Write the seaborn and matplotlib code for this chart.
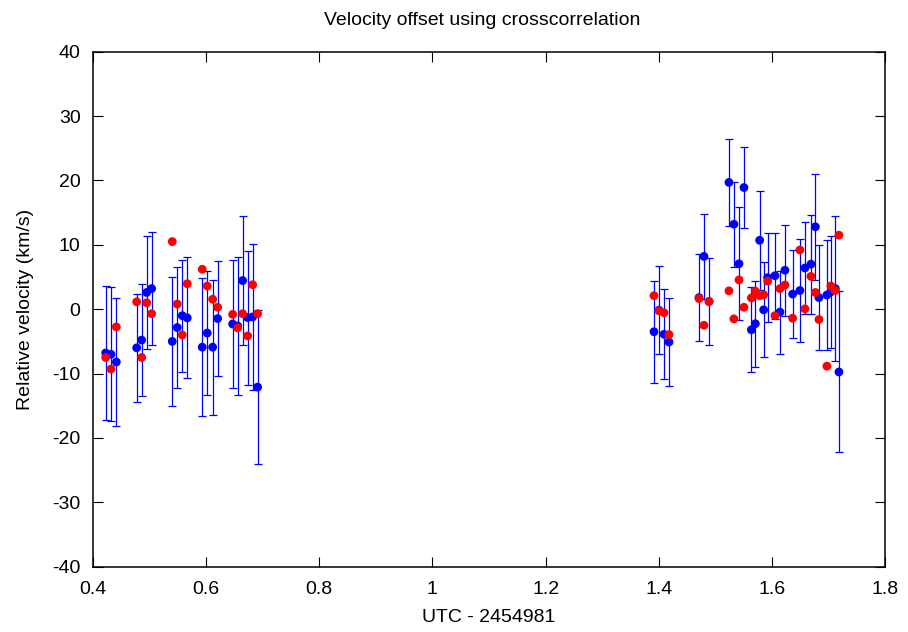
import numpy as np
import pandas as pd
import matplotlib
matplotlib.use("Agg")
import matplotlib.pyplot as plt
import seaborn as sns

# time (UTC - 2454981)
times = [0.4224, 0.4318, 0.4412, 0.4772, 0.4860, 0.4949, 0.5037,
         0.5401, 0.5489, 0.5578, 0.5666, 0.5931, 0.6019, 0.6115, 0.6203,
         0.6468, 0.6557, 0.6645, 0.6733, 0.6822, 0.6910,
         1.3917, 1.4005, 1.4094, 1.4182, 1.4712, 1.4800, 1.4889,
         1.5242, 1.5330, 1.5419, 1.5507, 1.5638, 1.5708, 1.5784, 1.5855,
         1.5926, 1.6055, 1.6143, 1.6231, 1.6367, 1.6496, 1.6585, 1.6691,
         1.6769, 1.6832, 1.6973, 1.7044, 1.7122, 1.7186]

# blue series (with error bars)
blue_vel = [-6.8, -7.0, -8.2, -6.0, -4.8, 2.6, 3.2,
            -5.0, -2.85, -1.0, -1.35, -5.9, -3.7, -5.9, -1.45,
            -2.3, -2.6, 4.45, -1.3, -1.2, -12.1,
            -3.5, -0.15, -3.9, -5.1, 1.8, 8.2, 1.2,
            19.7, 13.2, 7.05, 18.9, -3.2, -2.25, 10.7, -0.1,
            4.9, 5.2, -0.45, 6.05, 2.35, 2.9, 6.4, 7.0,
            12.8, 1.8, 2.2, 2.7, 3.2, -9.75]
blue_err = [10.4, 10.4, 10.0, 8.4, 8.7, 8.8, 8.8,
            10.0, 9.4, 8.7, 9.4, 10.7, 9.7, 10.5, 9.0,
            10.0, 10.75, 10.0, 10.4, 11.4, 12.0,
            7.9, 6.8, 7.0, 6.9, 6.7, 6.6, 6.8,
            6.7, 6.6, 8.8, 6.25, 6.6, 6.7, 7.7, 7.4,
            6.9, 6.7, 6.45, 7.1, 6.8, 8.0, 7.2, 7.7,
            8.2, 8.2, 8.5, 8.7, 11.3, 12.5]

# red series
red_vel = [-7.5, -9.3, -2.75, 1.15, -7.5, 1.0, -0.7,
           10.5, 0.8, -4.0, 3.95, 6.2, 3.6, 1.55, 0.3,
           -0.8, -2.9, -0.7, -4.15, 3.8, -0.7,
           2.1, -0.25, -0.55, -3.95, 1.65, -2.5, 1.2,
           2.85, -1.5, 4.55, 0.3, 1.75, 2.8, 2.1, 2.25,
           4.35, -1.0, 3.2, 3.75, -1.4, 9.2, 0.05, 5.1,
           2.6, -1.6, -8.85, 3.6, 2.9, 11.5]

x_ticks = [0.4, 0.6, 0.8, 1.0, 1.2, 1.4, 1.6, 1.8]
x_tick_labels = ["0.4", "0.6", "0.8", "1", "1.2", "1.4", "1.6", "1.8"]
y_ticks = [-40, -30, -20, -10, 0, 10, 20, 30, 40]

df = pd.DataFrame({"t": times, "blue": blue_vel, "err": blue_err, "red": red_vel})

sns.set_style("ticks")
plt.rcParams["font.family"] = ["Liberation Sans", "DejaVu Sans"]
plt.rcParams["axes.unicode_minus"] = False
plt.rcParams["text.color"] = "black"
plt.rcParams["axes.labelcolor"] = "black"

fs = 14

fig = plt.figure(figsize=(9.08, 6.32), dpi=100)
ax = fig.add_axes([93 / 908, 1 - 566.7 / 632, (885 - 93) / 908, (566.7 - 51.7) / 632])

ax.errorbar(df["t"], df["blue"], yerr=df["err"], fmt="none", ecolor="#0000ff",
            elinewidth=0.9, capsize=3.0, capthick=0.9, zorder=2)
sns.scatterplot(data=df, x="t", y="blue", ax=ax, color="#0000ff", s=40,
                edgecolor="none", linewidth=0, zorder=3)
sns.scatterplot(data=df, x="t", y="red", ax=ax, color="#ff0000", s=40,
                edgecolor="none", linewidth=0, zorder=4)

ax.set_xlim(0.4, 1.8)
ax.set_ylim(-40, 40)
ax.set_xticks(x_ticks)
ax.set_xticklabels(x_tick_labels)
ax.set_yticks(y_ticks)
ax.tick_params(direction="in", length=7, width=0.8, top=True, right=True,
               labelsize=fs, colors="black", pad=9)
ax.tick_params(axis="x", pad=10)
for sp in ax.spines.values():
    sp.set_visible(True)
    sp.set_linewidth(1.1)
    sp.set_color("black")

ax.set_xlabel("UTC - 2454981", fontsize=fs, labelpad=8)
ax.set_ylabel("Relative velocity (km/s)", fontsize=fs, labelpad=13)
ax.set_title("Velocity offset using crosscorrelation", fontsize=fs, pad=19, x=0.491)

fig.savefig("out.png", dpi=100)
